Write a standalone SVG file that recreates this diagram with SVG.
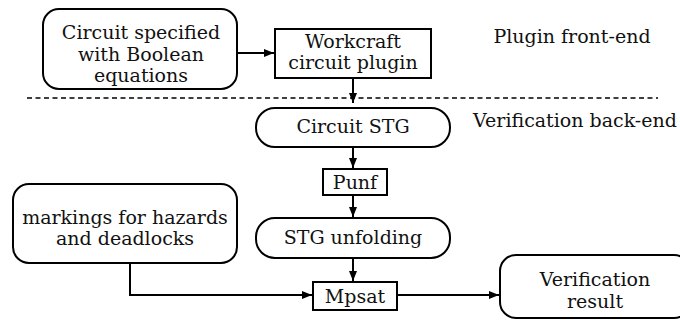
<svg xmlns="http://www.w3.org/2000/svg" width="680" height="320" viewBox="0 0 680 320">
<style>
text{font-family:"DejaVu Serif","Liberation Serif",serif;font-size:19px;fill:#111;text-anchor:middle}
.b{fill:#fff;stroke:#000;stroke-width:2}
.c{fill:none;stroke:#000;stroke-width:2}
.d{fill:none;stroke:#000;stroke-width:1.5;stroke-dasharray:5 3.5}
</style>
<defs>
<marker id="ah" viewBox="0 0 10 8" refX="10" refY="4" markerWidth="10" markerHeight="8" markerUnits="userSpaceOnUse" orient="auto">
<path d="M0,0 L10,4 L0,8 Z" fill="#000"/>
</marker>
</defs>
<line class="d" x1="27" y1="98" x2="658" y2="98"/>
<text x="572" y="43">Plugin front-end</text>
<text x="575" y="127">Verification back-end</text>
<g id="connectors">
<line class="c" x1="237" y1="53" x2="274" y2="53" marker-end="url(#ah)"/>
<line class="c" x1="353" y1="78" x2="353" y2="103" marker-end="url(#ah)"/>
<line class="c" x1="353" y1="147" x2="353" y2="168" marker-end="url(#ah)"/>
<line class="c" x1="353" y1="195" x2="353" y2="217" marker-end="url(#ah)"/>
<line class="c" x1="353" y1="258" x2="353" y2="281" marker-end="url(#ah)"/>
<polyline class="c" points="130,263 130,295 312,295" marker-end="url(#ah)"/>
<line class="c" x1="397" y1="295" x2="499" y2="295" marker-end="url(#ah)"/>
</g>
<g id="n-circuit">
<rect class="b" x="43" y="9" width="194" height="80" rx="16"/>
<text x="141" y="39">Circuit specified</text>
<text x="141" y="61">with Boolean</text>
<text x="141" y="82">equations</text>
</g>
<g id="n-plugin">
<rect class="b" x="275" y="29" width="156" height="49"/>
<text x="353" y="48">Workcraft</text>
<text x="353" y="69">circuit plugin</text>
</g>
<g id="n-stg">
<rect class="b" x="256" y="108" width="194" height="39" rx="19"/>
<text x="353" y="133">Circuit STG</text>
</g>
<g id="n-punf">
<rect class="b" x="323" y="169" width="64" height="26"/>
<text x="355" y="189">Punf</text>
</g>
<g id="n-unfolding">
<rect class="b" x="256" y="218" width="194" height="40" rx="19"/>
<text x="353" y="244">STG unfolding</text>
</g>
<g id="n-markings">
<rect class="b" x="13" y="184" width="224" height="79" rx="16"/>
<text x="125" y="224">markings for hazards</text>
<text x="125" y="245">and deadlocks</text>
</g>
<g id="n-mpsat">
<rect class="b" x="313" y="282" width="84" height="28"/>
<text x="355" y="303">Mpsat</text>
</g>
<g id="n-result">
<rect class="b" x="500" y="255" width="190" height="63" rx="16"/>
<text x="595" y="286">Verification</text>
<text x="595" y="308">result</text>
</g>
</svg>
